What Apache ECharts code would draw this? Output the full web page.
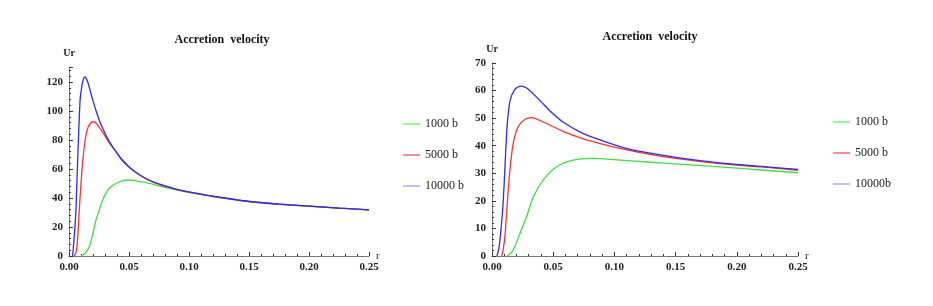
<!DOCTYPE html>
<html><head><meta charset="utf-8">
<script src="https://cdn.jsdelivr.net/npm/echarts@6/dist/echarts.min.js"></script>
<style>html,body{margin:0;padding:0;background:#fff}#c{width:933px;height:306px}</style>
</head><body><div id="c"></div>
<script>
// ---- data ----
const titleText = 'Accretion  velocity';
const xTicksLabelDigits = 2;
const leftNames = ['1000 b', '5000 b', '10000 b'];
const rightNames = ['1000 b', '5000 b', '10000b'];

// left panel  [r, Ur]
const left1000 = [[0.010,0],[0.013,1.5],[0.0169,6.4],[0.0195,14],[0.0225,24.8],[0.025,31],[0.028,38.6],[0.0336,46.7],[0.042,51.2],[0.05,52.4],[0.058,51.5],[0.0669,50.1],[0.0808,47.2],[0.0935,45],[0.1058,43],[0.12,41],[0.15,37.5],[0.175,35.7],[0.2,34.3],[0.225,33],[0.25,31.8]];
const left5000 = [[0.0045,0],[0.006,3],[0.0072,12],[0.0086,32],[0.01,50],[0.0114,65],[0.0135,80],[0.016,89],[0.0197,92.6],[0.022,92],[0.025,89],[0.029,84],[0.0336,78],[0.04,71],[0.0447,65.5],[0.052,60],[0.0614,54.5],[0.07,51],[0.0808,48],[0.09,45.8],[0.1058,43.2],[0.12,41.1],[0.15,37.6],[0.175,35.8],[0.2,34.4],[0.225,33],[0.25,31.8]];
const left10000 = [[0.003,0],[0.0045,15],[0.0058,32],[0.0072,66],[0.0092,107],[0.0105,116],[0.0118,121.5],[0.0128,123.6],[0.014,123],[0.016,119],[0.018,113],[0.0197,108],[0.023,99],[0.027,90],[0.0336,79],[0.04,71],[0.0447,66],[0.052,60],[0.0614,54.7],[0.07,51.2],[0.0808,48.2],[0.09,46],[0.1058,43.3],[0.12,41.2],[0.15,37.6],[0.175,35.8],[0.2,34.4],[0.225,33],[0.25,31.8]];

// right panel [r, Ur]
const right1000 = [[0.012,0],[0.0145,0.7],[0.0174,2.2],[0.0229,8.2],[0.0283,14.3],[0.0338,21.5],[0.0419,27.6],[0.0528,32.4],[0.0664,34.8],[0.0828,35.4],[0.1046,34.8],[0.13,34.0],[0.15,33.4],[0.186,32.3],[0.22,31.2],[0.25,30.2]];
const right5000 = [[0.0079,0],[0.009,2],[0.0106,7.3],[0.0125,19.3],[0.0147,31.4],[0.0174,41],[0.0215,47],[0.027,49.6],[0.0324,50.2],[0.0419,48.6],[0.058,45.2],[0.0746,42.5],[0.09,40.6],[0.1046,39.0],[0.12,37.6],[0.15,35.4],[0.186,33.5],[0.22,32.3],[0.25,31.1]];
const right10000 = [[0.004,0],[0.0055,2.5],[0.0065,5.8],[0.0087,16.7],[0.0098,25],[0.0112,38],[0.0125,48],[0.0147,56.3],[0.0188,60.5],[0.0234,61.6],[0.028,61],[0.0338,58.8],[0.04,56],[0.0474,52.6],[0.058,48.6],[0.0746,44.4],[0.091,41.7],[0.1046,39.7],[0.12,38],[0.15,35.8],[0.186,33.8],[0.22,32.5],[0.25,31.4]];

const colors = ['#3ee03e', '#ff3030', '#2a2aff'];
const legendColors = ['#66ff66', '#ff6666', '#aaaaff'];

// ---- chart ----
const chart = echarts.init(document.getElementById('c'), null, {renderer: 'canvas'});
const lblFont = {fontFamily: 'Liberation Serif', fontWeight: 'bold', fontSize: 11, color: '#222'};
function xAx(gi) {
  return {
    type: 'value', gridIndex: gi, min: 0, max: 0.25, interval: 0.05,
    name: 'r', nameLocation: 'end', nameGap: 7,
    nameTextStyle: {fontFamily: 'Liberation Serif', fontSize: 11, color: '#222', verticalAlign: 'middle'},
    axisLine: {lineStyle: {color: '#777', width: 1}},
    axisTick: {inside: true, length: 4, lineStyle: {color: '#333'}},
    minorTick: {show: true, splitNumber: 5, length: 2, lineStyle: {color: '#333'}},
    splitLine: {show: false},
    axisLabel: Object.assign({margin: 6, formatter: v => v.toFixed(xTicksLabelDigits)}, lblFont)
  };
}
function yAx(gi, max, interval) {
  return {
    type: 'value', gridIndex: gi, min: 0, max: max, interval: interval,
    name: 'Ur', nameLocation: 'end', nameGap: 9,
    nameTextStyle: {fontFamily: 'Liberation Serif', fontWeight: 'bold', fontSize: 10, color: '#222', align: 'center'},
    axisLine: {show: true, lineStyle: {color: '#777', width: 1}},
    axisTick: {show: true, inside: true, length: 4, lineStyle: {color: '#333'}},
    minorTick: {show: true, splitNumber: 5, length: 2, lineStyle: {color: '#333'}},
    splitLine: {show: false},
    axisLabel: Object.assign({margin: 6, showMaxLabel: max % interval === 0}, lblFont)
  };
}
function ser(name, data, ci, gi) {
  return {type: 'line', name: name, data: data, xAxisIndex: gi, yAxisIndex: gi,
    showSymbol: false, symbol: 'none', smooth: 0.25,
    lineStyle: {color: colors[ci], width: 1.3}, itemStyle: {color: colors[ci]}, animation: false};
}
function legendData(names) {
  return names.map((n, i) => ({name: n, icon: 'rect', itemStyle: {color: legendColors[i]}}));
}
chart.setOption({
  animation: false,
  title: [
    {text: titleText, left: 217, top: 29, textAlign: 'center', textStyle: {fontFamily: 'Liberation Serif', fontWeight: 'bold', fontSize: 12, color: '#111'}},
    {text: titleText, left: 645, top: 26, textAlign: 'center', textStyle: {fontFamily: 'Liberation Serif', fontWeight: 'bold', fontSize: 12, color: '#111'}}
  ],
  grid: [
    {left: 69, right: 564, top: 67.5, bottom: 50},
    {left: 492, right: 135, top: 63, bottom: 50}
  ],
  xAxis: [xAx(0), xAx(1)],
  yAxis: [yAx(0, 130, 20), yAx(1, 70, 10)],
  legend: [
    {orient: 'vertical', left: 398, top: 113, itemWidth: 17, itemHeight: 1.5, itemGap: 19, selectedMode: false,
     data: legendData(leftNames), textStyle: {fontFamily: 'Liberation Serif', fontSize: 12, color: '#222'}},
    {orient: 'vertical', left: 828, top: 111, itemWidth: 17, itemHeight: 1.5, itemGap: 19, selectedMode: false,
     data: legendData(rightNames), textStyle: {fontFamily: 'Liberation Serif', fontSize: 12, color: '#222'}}
  ],
  series: [
    ser(leftNames[0], left1000, 0, 0), ser(leftNames[1], left5000, 1, 0), ser(leftNames[2], left10000, 2, 0),
    ser(rightNames[0], right1000, 0, 1), ser(rightNames[1], right5000, 1, 1), ser(rightNames[2], right10000, 2, 1)
  ]
});
</script></body></html>
